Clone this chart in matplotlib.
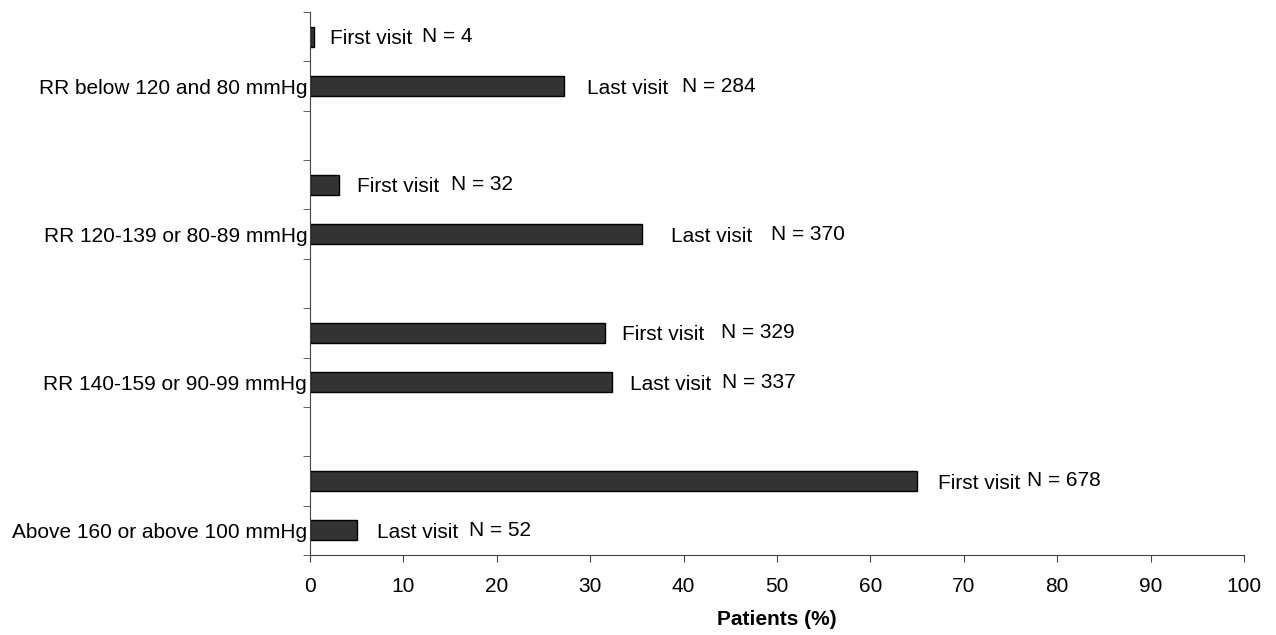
import numpy as np
import matplotlib.pyplot as plt

plt.rcParams['font.family'] = ['Liberation Sans', 'DejaVu Sans']

categories = ["Above 160 or above 100 mmHg", "RR 140-159 or 90-99 mmHg",
              "RR 120-139 or 80-89 mmHg", "RR below 120 and 80 mmHg"]
first_visit = [65.0, 31.6, 3.1, 0.4]
last_visit = [5.0, 32.3, 35.5, 27.2]
n_first = [678, 329, 32, 4]
n_last = [52, 337, 370, 284]

# offsets (pixels) from bar end for the "visit" text and the "N =" text
first_dx = [(21, 110), (17, 116), (18, 112), (16, 108)]
last_dx = [(20, 112), (18, 110), (29, 129), (23, 118)]

fig = plt.figure(figsize=(12.76, 6.35), dpi=100)
ax = fig.add_axes([310 / 1276, 1 - 555 / 635, 934 / 1276, 543 / 635])

y_last = np.arange(len(categories)) * 3
y_first = y_last + 1
bar_kw = dict(height=0.4, color='#333333', edgecolor='black', linewidth=1)
ax.barh(y_last, last_visit, **bar_kw)
ax.barh(y_first, first_visit, **bar_kw)

fs = 15
for ys, vals, ns, dxs, name in [(y_first, first_visit, n_first, first_dx, 'First visit'),
                                (y_last, last_visit, n_last, last_dx, 'Last visit')]:
    for y, v, n, (d1, d2) in zip(ys, vals, ns, dxs):
        ax.annotate(name, (v, y), xytext=(d1 * 0.72, -1.5), textcoords='offset points',
                    va='center', ha='left', fontsize=fs)
        ax.annotate(f'N = {n}', (v, y), xytext=(d2 * 0.72, 0), textcoords='offset points',
                    va='center', ha='left', fontsize=fs)

ax.set_xlim(0, 100)
ax.set_ylim(-0.5, 10.5)
ax.set_xticks(np.arange(0, 101, 10))
ax.set_yticks(y_last)
ax.set_yticklabels(categories, fontsize=fs)
ax.set_yticks(np.arange(-0.5, 10.6, 1), minor=True)
ax.tick_params(axis='y', which='major', length=0, pad=2)
ax.tick_params(axis='y', which='minor', length=5, direction='out', color='#444444')
ax.tick_params(axis='x', length=5, direction='out', labelsize=fs, pad=11, color='#444444')

for s in ['top', 'right']:
    ax.spines[s].set_visible(False)
for s in ['left', 'bottom']:
    ax.spines[s].set_color('#444444')

ax.set_xlabel('Patients (%)', fontsize=15, fontweight='bold', labelpad=10)

fig.savefig('out.png', dpi=100)
